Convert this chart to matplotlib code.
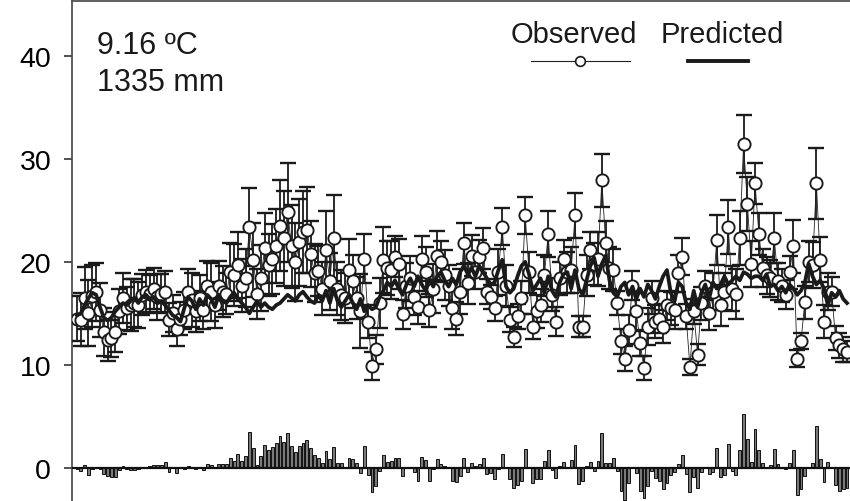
import matplotlib
matplotlib.use("Agg")
import matplotlib.pyplot as plt
from matplotlib.lines import Line2D
import numpy as np

plt.rcParams['font.family'] = ['Liberation Sans', 'DejaVu Sans']

observed = [
    14.5, 14.4, 16.5, 15.0, 16.7, 17.1, 15.3, 13.2, 12.4, 12.6, 13.2, 15.2,
    16.5, 15.5, 15.8, 16.0, 15.8, 16.8, 17.1, 16.9, 17.4, 16.6, 16.9, 17.1,
    14.4, 15.0, 13.5, 14.5, 15.3, 17.1, 16.3, 15.2, 16.5, 15.3,
    17.7, 17.1, 15.8, 17.7, 17.1, 16.9, 19.0, 18.7, 19.7, 17.7, 18.4,
    23.4, 20.2, 16.9, 18.4, 21.3, 19.7, 20.3, 21.5, 23.5, 22.3, 24.8, 21.5, 20.0, 21.9, 22.9, 23.1, 20.8,
    18.9, 19.1, 17.4, 21.1, 18.1, 22.3, 17.4, 16.8, 16.5, 19.2, 18.1, 16.5, 15.2, 20.3, 14.2,
    9.9, 11.5, 16.0,
    20.2, 19.4, 19.2, 20.5, 19.8, 14.9, 17.7, 18.4, 16.6, 15.6, 20.3, 19.0, 15.3, 17.4, 20.6, 20.0, 18.7, 17.7, 15.5, 14.5,
    17.1, 21.8, 17.9, 20.6, 19.0, 20.5, 21.3, 17.1, 16.6, 15.5, 19.0, 23.4, 17.7, 14.4, 12.7, 14.7, 16.5,
    24.5, 19.0, 13.7, 15.2, 15.8, 18.7, 22.7, 16.8, 14.2, 18.4, 20.3, 19.0, 19.2, 24.5, 13.7, 13.7, 18.7, 21.1, 19.8, 20.3,
    27.9, 21.8, 19.4, 19.2, 16.0, 12.3, 10.6, 13.4, 17.7, 15.2, 12.1, 9.7, 13.7, 16.5, 14.2, 14.5, 13.7, 15.8, 15.5, 15.3,
    18.9, 20.5, 14.7, 9.8, 15.2, 11.0, 16.0, 17.7, 15.0, 17.1, 22.1, 15.8, 17.1, 23.4, 17.4, 16.9, 22.3,
    31.4, 25.6, 19.8, 27.6, 22.7, 19.4, 18.7, 18.4, 22.3, 18.1, 17.7, 16.8, 19.0, 21.5,
    10.6, 12.3, 16.1, 20.0, 19.7, 27.6, 20.2, 14.2, 17.1, 17.1, 12.6, 11.9, 11.5, 11.3,
]

predicted = [
    14.8, 15.0, 15.8, 16.5, 17.0, 16.8, 15.6, 14.6, 14.3, 14.6, 15.2, 15.6,
    16.0, 15.8, 16.2, 16.5, 16.0, 16.6, 16.8, 16.4, 16.6, 16.0, 16.2, 15.8,
    15.3, 14.8, 14.6, 14.2, 15.5, 16.6, 16.2, 15.4, 16.4, 15.8,
    16.8, 16.4, 15.6, 16.8, 16.2, 16.0, 16.6, 17.0, 16.4, 16.0, 15.6,
    15.0, 15.6, 16.2, 15.6, 16.0, 15.6, 15.4, 15.8, 16.0, 16.4, 16.8, 16.5, 16.2, 16.8, 17.1, 16.6, 16.2,
    16.0, 16.8, 16.2, 17.2, 16.0, 17.4, 16.2, 15.6, 16.2, 16.8, 16.0, 15.4, 16.4, 15.2, 15.8,
    15.4, 15.6, 16.6,
    17.2, 18.0, 17.6, 18.2, 17.4, 16.8, 17.8, 18.4, 17.6, 18.6, 17.8, 17.2, 18.4, 17.6, 18.6, 19.0, 18.2, 17.6, 18.4, 17.8,
    19.0, 19.6, 18.8, 19.4, 18.6, 19.6, 19.0, 18.4, 17.8, 18.0, 19.2, 20.2, 17.6, 17.0, 17.4, 18.6, 19.6,
    20.0, 18.8, 17.2, 17.8, 18.4, 17.0, 18.6, 17.2, 16.6, 18.0, 18.8, 19.0, 17.4, 19.2, 17.4, 16.8, 18.2, 19.6, 20.4, 18.6,
    19.8, 20.6, 18.2, 17.0, 16.6, 17.6, 18.0, 16.8, 17.6, 16.4, 17.4, 16.6, 17.8, 17.2, 16.4, 17.6, 18.6, 19.2, 17.0, 16.2,
    18.0, 17.6, 16.0, 15.4, 17.2, 15.6, 17.0, 17.8, 16.4, 18.0, 17.4, 17.8, 18.6, 17.8, 18.2, 18.6, 18.2,
    19.0, 18.8, 18.4, 18.6, 18.6, 18.2, 18.8, 17.6, 17.8, 17.2, 17.6, 17.0, 17.8, 17.4,
    16.8, 17.2, 18.0, 19.8, 18.6, 17.8, 18.2, 17.4, 15.8, 17.0, 16.6, 17.2, 16.4, 16.0,
]

errors = [
    2.2, 2.6, 3.0, 3.2, 3.0, 2.8, 2.6, 2.3, 2.0, 1.8, 1.9, 2.2,
    2.4, 2.1, 2.5, 2.3, 2.2, 2.0, 2.1, 1.8, 2.0, 2.2, 1.9, 2.0,
    1.6, 1.8, 1.7, 1.6, 1.8, 2.2, 2.6, 2.0, 2.2, 1.8,
    2.4, 2.8, 2.2, 2.4, 2.5, 2.0, 2.8, 3.0, 3.2, 2.6, 2.8,
    3.8, 3.6, 2.4, 3.2, 3.4, 3.0, 3.4, 3.6, 4.4, 4.6, 4.8, 4.0, 3.8, 4.2, 4.0, 4.2, 3.2,
    2.8, 2.4, 2.6, 3.8, 2.8, 4.2, 2.6, 2.4, 2.4, 3.0, 2.6, 2.0, 3.6, 2.4, 1.6,
    1.4, 1.4, 2.4,
    3.2, 2.6, 2.8, 2.0, 2.4, 1.4, 2.2, 2.2, 1.8, 1.6, 2.2, 2.4, 1.6, 2.4, 2.4, 2.0, 2.4, 2.0, 2.0, 1.6,
    2.2, 2.0, 2.0, 2.0, 1.6, 1.6, 2.0, 1.2, 1.2, 1.2, 2.2, 1.8, 2.0, 1.2, 1.0, 1.2, 1.6,
    1.8, 2.0, 1.2, 1.6, 1.6, 2.0, 2.2, 1.6, 1.4, 1.6, 1.8, 2.0, 2.2, 2.2, 1.0, 1.0, 2.0, 1.8, 2.0, 2.6,
    2.6, 2.2, 2.0, 2.0, 1.2, 1.2, 1.2, 1.4, 1.4, 1.8, 1.2, 1.2, 1.8, 1.6, 1.6, 1.4, 1.6, 1.4, 1.6, 1.8,
    1.8, 1.8, 1.2, 0.8, 1.2, 1.0, 1.6, 1.4, 1.6, 1.8, 2.4, 2.0, 1.8, 2.6, 2.2, 2.4, 2.6,
    2.8, 2.6, 2.2, 2.0, 2.0, 1.8, 1.8, 1.8, 2.4, 1.8, 1.6, 1.4, 1.6, 2.6,
    0.8, 0.8, 1.6, 2.0, 2.2, 3.4, 2.2, 1.6, 1.8, 1.4, 1.2, 1.2, 1.2, 1.0,
]

residual_scale = 0.42
y_ticks = [0, 10, 20, 30, 40]
annotation_lines = ["9.16 ºC", "1335 mm"]

obs = np.array(observed)
pred = np.array(predicted)
err = np.array(errors)
x = np.arange(len(obs))
resid = (obs - pred) * residual_scale

W, H = 850, 502
fig = plt.figure(figsize=(W / 100, H / 100), dpi=100)
left_px = 72
ax = fig.add_axes([left_px / W, 0, 1 - left_px / W, 1 - 2 / H])

n = len(obs)
step = (847 - 77) / (n - 1)
ax.set_xlim((left_px - 77) / step, (W - 77) / step)
ax.set_ylim(-3.2, 45.3)

# residual bars
ax.bar(x, resid, width=0.75, color='#7a7a7a', edgecolor='#111111', linewidth=0.7, zorder=2)
ax.axhline(0, color='#111111', linewidth=1.6, zorder=3)

# observed: thin connecting line, error bars, markers
ax.plot(x, obs, color='#222222', linewidth=0.6, zorder=3)
ax.errorbar(x, obs, yerr=err, fmt='none', ecolor='#1a1a1a', elinewidth=1.3,
            capsize=5.5, capthick=1.7, zorder=4)
ax.plot(x, obs, linestyle='none', marker='o', markersize=8.8, markerfacecolor='white',
        markeredgecolor='#1a1a1a', markeredgewidth=1.35, zorder=5)
# predicted
ax.plot(x, pred, color='#1a1a1a', linewidth=2.7, zorder=6)

ax.set_yticks(y_ticks)
ax.set_xticks([])
ax.tick_params(axis='y', direction='out', length=6, width=1.2, labelsize=20.5, pad=9, color='#333333')
for s in ['right', 'bottom']:
    ax.spines[s].set_visible(False)
for s in ['left', 'top']:
    ax.spines[s].set_color('#444444')
    ax.spines[s].set_linewidth(1.2)

# annotations
fig.text(97 / W, 1 - 54 / H, annotation_lines[0], fontsize=22, va='baseline', ha='left', color='#1a1a1a')
fig.text(97 / W, 1 - 91 / H, annotation_lines[1], fontsize=22, va='baseline', ha='left', color='#1a1a1a')

# legend
fig.text(574 / W, 1 - 43 / H, "Observed", fontsize=21, ha='center', va='baseline', color='#1a1a1a')
fig.text(722 / W, 1 - 43 / H, "Predicted", fontsize=21, ha='center', va='baseline', color='#1a1a1a')
fig.add_artist(Line2D([531 / W, 630 / W], [1 - 62 / H, 1 - 62 / H], transform=fig.transFigure,
                      color='#222222', linewidth=0.8))
fig.add_artist(Line2D([580 / W], [1 - 62 / H], transform=fig.transFigure, marker='o', markersize=7,
                      markerfacecolor='white', markeredgecolor='#1a1a1a', markeredgewidth=1.2, linestyle='none'))
fig.add_artist(Line2D([688 / W, 748 / W], [1 - 62 / H, 1 - 62 / H], transform=fig.transFigure,
                      color='#1a1a1a', linewidth=2.8))

fig.savefig("out.png", dpi=100)
